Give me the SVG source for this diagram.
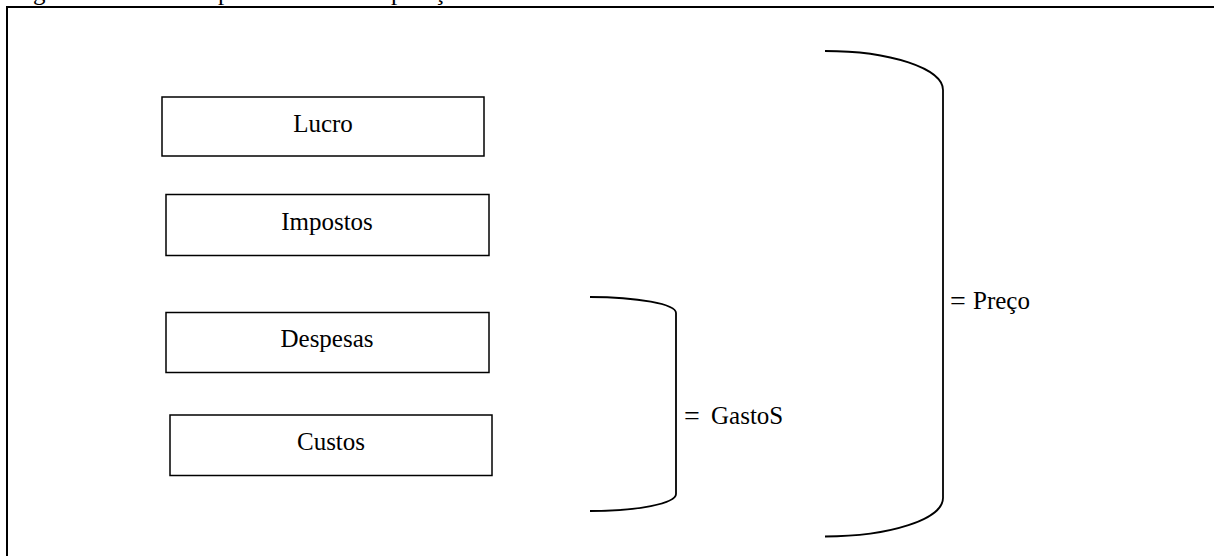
<svg xmlns="http://www.w3.org/2000/svg" width="1214" height="556" viewBox="0 0 1214 556">
  <style>
    .frame { fill: none; stroke: #000; stroke-width: 2; }
    .box { fill: #fff; stroke: #000; stroke-width: 1.5; }
    .brace { fill: none; stroke: #000; stroke-width: 1.8; }
    .lbl { font-family: "Liberation Serif", "Times New Roman", serif; font-size: 25px; fill: #000; }
    .eq { font-size: 28px; }
  </style>
  <rect width="1214" height="556" fill="#fff"/>

  <!-- caption line above the frame, cut off at the top edge -->
  <text class="lbl" y="-0.5"><tspan x="33">g</tspan><tspan x="218">p</tspan><tspan x="391">p</tspan><tspan x="434">ç</tspan></text>

  <!-- outer frame (runs off the right and bottom edges) -->
  <rect class="frame" x="7" y="7" width="1220" height="560"/>

  <g id="lucro">
    <rect class="box" x="162" y="97" width="322" height="59"/>
    <text class="lbl" x="323" y="131.5" text-anchor="middle">Lucro</text>
  </g>
  <g id="impostos">
    <rect class="box" x="166" y="194.5" width="323" height="61"/>
    <text class="lbl" x="327" y="230" text-anchor="middle">Impostos</text>
  </g>
  <g id="despesas">
    <rect class="box" x="166" y="312.5" width="323" height="60"/>
    <text class="lbl" x="327" y="346.5" text-anchor="middle">Despesas</text>
  </g>
  <g id="custos">
    <rect class="box" x="170" y="415" width="322" height="60.5"/>
    <text class="lbl" x="331" y="450" text-anchor="middle">Custos</text>
  </g>

  <g id="connectors">
    <!-- brace grouping Despesas + Custos -->
    <path class="brace" d="M590,297 A86,16 0 0 1 676,313 L676,494 A86,17 0 0 1 590,511"/>
    <!-- brace grouping all four items -->
    <path class="brace" d="M825,51 A118,39 0 0 1 943,90 L943,498 A118,38.5 0 0 1 825,536.5"/>
  </g>

  <g id="gastos">
    <text class="lbl" x="684" y="425"><tspan class="eq">=</tspan><tspan x="711" y="424">GastoS</tspan></text>
  </g>
  <g id="preco">
    <text class="lbl" x="950" y="310"><tspan class="eq">=</tspan><tspan x="973" y="309">Preço</tspan></text>
  </g>
</svg>
